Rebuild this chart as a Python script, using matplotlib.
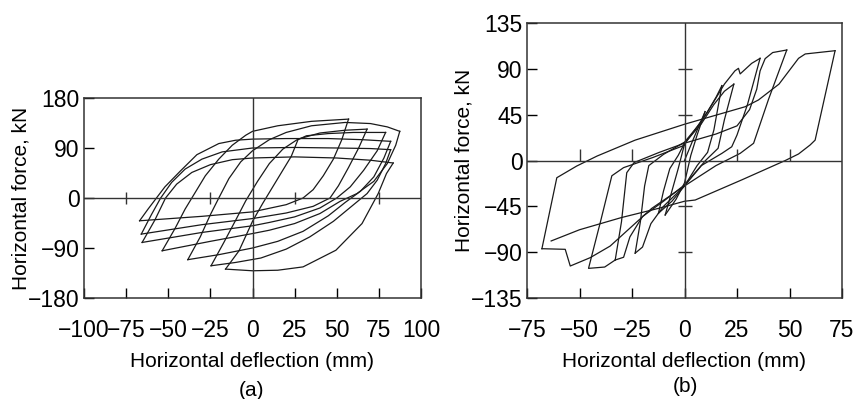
import numpy as np
import matplotlib.pyplot as plt

plt.rcParams['font.family'] = ['Liberation Sans', 'DejaVu Sans']

# ---- panel (a): loop branches, (deflection mm, force kN) ----
# upper branches: from a negative corner, steep rise, then a plateau to a positive corner
a_up = [
    [(-67, -41), (-62, -20), (-57, 0), (-52, 20), (-43, 48), (-33, 78), (-20, 98), (-10, 104),
     (0, 106), (20, 107), (45, 107), (65, 105), (82, 102)],
    [(-66, -65), (-60, -30), (-54.5, 0), (-48, 28), (-40, 52), (-30, 70), (-18, 83), (0, 90),
     (25, 91), (50, 90), (70, 89), (82, 87)],
    [(-65.5, -80), (-58, -40), (-51.6, 0), (-45, 25), (-36, 46), (-25, 60), (-12, 69), (0, 72),
     (25, 74), (50, 72), (70, 68), (83.5, 63)],
    [(-53.6, -95), (-46, -55), (-40, -20), (-35, 5), (-28, 40), (-20, 70), (-12, 95), (-4, 113),
     (0, 120), (15, 130), (35, 138), (57, 142)],
    [(-38.4, -111), (-31, -70), (-25, -30), (-20, 0), (-14, 35), (-7, 65), (0, 85), (10, 105),
     (20, 118), (35, 130), (55, 136), (70, 134), (80, 128), (87.4, 120)],
    [(-24.6, -122), (-17, -80), (-10, -40), (-4, -5), (3, 30), (10, 62), (18, 88), (27, 106),
     (40, 117), (55, 122), (68, 124)],
    [(-16, -128), (-8, -95), (0, -42), (6, -10), (12, 20), (18, 50), (23, 75), (27, 105),
     (32, 112), (45, 116), (60, 118), (79, 118)],
]
# lower branches: from a positive corner, steep drop, then a flat part to a negative corner
a_down = [
    [(83.5, 63), (79.5, 44), (74.6, 8), (65, -46), (49.5, -94), (30, -124), (15, -130),
     (0, -131), (-16, -128)],
    [(82, 87), (79, 62), (74, 32), (68, 8), (60, -12), (48, -42), (34, -70), (20, -92),
     (5, -108), (-10, -116), (-24.6, -122)],
    [(82, 102), (78, 72), (72, 38), (64, 12), (55, -8), (45, -32), (30, -60), (15, -78),
     (0, -90), (-20, -102), (-38.4, -111)],
    [(87.4, 120), (85, 95), (80, 62), (72, 30), (62, 8), (52, -6), (40, -28), (25, -46),
     (10, -58), (0, -64), (-25, -78), (-53.6, -95)],
    [(79, 118), (74, 85), (66, 50), (58, 20), (50, 0), (40, -18), (25, -34), (10, -44),
     (0, -50), (-30, -62), (-65.5, -80)],
    [(68, 124), (63, 90), (57, 55), (51, 22), (46, 0), (36, -15), (20, -27), (0, -37),
     (-30, -48), (-66, -65)],
    [(57, 142), (53, 105), (48, 70), (42, 40), (36, 15), (30, 0), (20, -12), (0, -25),
     (-30, -33), (-67, -41)],
]

# ---- panel (b) ----
b_up = [
    [(0, 0), (4, 20), (9.8, 48)],
    [(-9.2, -53.5), (-6, -30), (-3, -8), (0, 16), (6, 33), (11, 48), (15, 62), (17.8, 73.5)],
    [(-12.4, -51.8), (-10, -30), (-7, -8), (-3, 5), (0, 17), (8, 36), (14, 55), (19, 68),
     (23.5, 75)],
    [(-23.5, -91), (-21, -60), (-19, -25), (-17, -5), (-10, 6), (0, 18), (8, 38), (14, 58),
     (19, 75), (24, 88), (25.7, 90.5), (26.5, 85), (32, 95.4), (36, 100.3)],
    [(-33, -97.7), (-30, -60), (-27.5, -12), (-24, -2), (-12, 8), (0, 17), (15, 26),
     (25, 34), (31, 50), (34.4, 70), (36, 88), (38.4, 100), (42, 106), (48.7, 108.5)],
    [(-67.9, -86.6), (-60.8, -16.9), (-51.3, -5.4), (-41.6, 4.4), (-23.5, 20), (0, 35.6),
     (28.9, 52.8), (35.2, 59.4), (45, 75), (54.3, 100.3), (57.5, 104.6), (71.7, 107.8)],
]
b_down = [
    [(9.8, 48), (6, 25), (3, 5), (0, -22), (-4, -38), (-9.2, -53.5)],
    [(17.8, 73.5), (14, 30), (11, 8), (6, -5), (0, -25), (-6, -40), (-12.4, -51.8)],
    [(23.5, 75), (19, 40), (16, 12), (10, 0), (0, -25), (-10, -45), (-16, -62), (-20, -85),
     (-23.5, -91)],
    [(36, 100.3), (30, 55), (25, 25), (22.5, 13.5), (17.8, 7), (8, -5), (0, -24), (-10, -40),
     (-20, -55), (-26, -75), (-29, -95), (-33, -97.7)],
    [(48.7, 108.5), (40, 60), (32.9, 16.9), (26.5, 7), (15, -5), (0, -25), (-15.6, -47),
     (-35.4, -84), (-44.9, -95.4), (-54.4, -103.6), (-56.8, -87.2), (-67.9, -86.6)],
    [(-33, -97.7), (-38, -104.6), (-45.7, -105.9), (-40, -60), (-34.6, -15), (-29, -7),
     (-15, 3), (0, 15)],
    [(71.7, 107.8), (62.2, 20), (59.8, 15.2), (54.3, 6.4), (48, 0), (27.3, -19), (5.1, -38.8),
     (0, -40), (-12.4, -47), (-30, -56), (-50, -68), (-63.5, -79)],
]

a_xticks = [-100, -75, -50, -25, 0, 25, 50, 75, 100]
a_yticks = [-180, -90, 0, 90, 180]
b_xticks = [-75, -50, -25, 0, 25, 50, 75]
b_yticks = [-135, -90, -45, 0, 45, 90, 135]

fig = plt.figure(figsize=(8.61, 3.99), dpi=100)
axa = fig.add_axes([84 / 861, 101 / 399, 337 / 861, 200 / 399])
axb = fig.add_axes([527 / 861, 101 / 399, 315 / 861, 275 / 399])


def style(ax, xt, yt, inner_x, inner_y, xmark):
    ax.set_xticks(xt)
    ax.set_yticks(yt)
    ax.set_xticklabels([str(v).replace('-', '\u2212') for v in xt])
    ax.set_yticklabels([str(v).replace('-', '\u2212') for v in yt])
    ax.tick_params(axis='x', direction='in', length=7, width=1, pad=15, labelsize=16.5,
                   top=False)
    ax.tick_params(axis='y', direction='in', length=7, width=1, pad=3, labelsize=16.5,
                   right=False)
    for s in ax.spines.values():
        s.set_linewidth(1.1)
        s.set_color('#333333')
    ax.axhline(0, color='#333333', lw=1.0)
    ax.axvline(0, color='#333333', lw=1.0)
    for v in inner_x:
        ax.plot([v], [0], marker=xmark, color='#333333', ms=9, mew=1)
    for v in inner_y:
        ax.plot([0], [v], marker='_', color='#333333', ms=10, mew=1)
    ax.set_xlabel('Horizontal deflection (mm)', fontsize=15, labelpad=7)
    ax.set_ylabel('Horizontal force, kN', fontsize=15, labelpad=-2)


for br in a_up + a_down:
    x, y = zip(*br)
    axa.plot(x, y, color='#1a1a1a', lw=0.9)
axa.set_xlim(-100, 100)
axa.set_ylim(-180, 180)
style(axa, a_xticks, a_yticks, [-75, -25, 25, 75], [], '|')

for br in b_up + b_down:
    x, y = zip(*br)
    axb.plot(x, y, color='#1a1a1a', lw=0.9)
axb.set_xlim(-75, 75)
axb.set_ylim(-135, 135)
style(axb, b_xticks, b_yticks, [-50, -25, 25, 50], [-90, -45, 45, 90], 2)

fig.text(252 / 861, 1 - 390 / 399, '(a)', ha='center', va='center', fontsize=15)
fig.text(685 / 861, 1 - 387 / 399, '(b)', ha='center', va='center', fontsize=15)

fig.savefig('out.png', dpi=100)
